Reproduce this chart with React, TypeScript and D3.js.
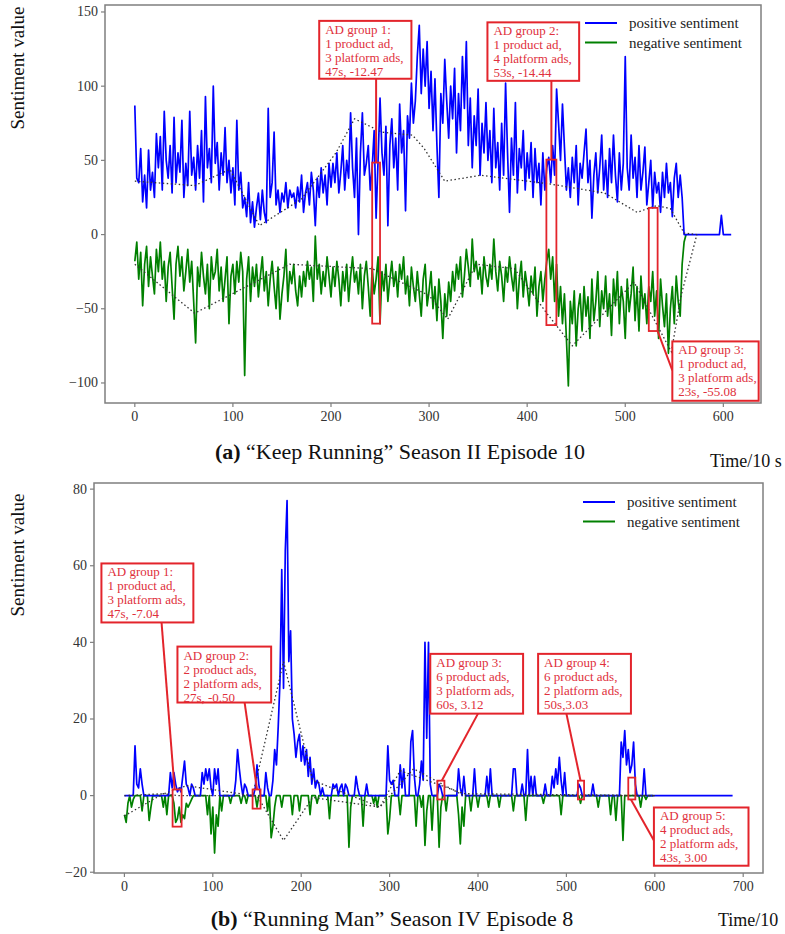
import React from 'react';
import * as d3 from 'd3';

// ---------- Panel (a): "Keep Running" Season II Episode 10 (x step = 2) ----------
const A_STEP = 2;
const A_POS = [
  87, 38, 35, 58, 22, 40, 18, 57, 30, 42, 25,
  68, 45, 66, 30, 83, 50, 38, 60, 28, 79,
  35, 55, 42, 77, 25, 48, 33, 83, 40, 52,
  30, 60, 38, 70, 22, 93, 45, 58, 35, 100,
  48, 62, 30, 55, 40, 72, 35, 50, 28, 45,
  20, 77, 30, 42, 18, 25, 12, 35, 8, 22,
  5, 18, 28, 10, 30, 15, 8, 85, 25, 35,
  69, 20, 30, 15, 28, 22, 35, 18, 30, 25,
  28, 18, 32, 22, 40, 15, 28, 35, 20, 42,
  30, 6, 38, 25, 45, 28, 40, 20, 48, 32,
  48, 35, 55, 28, 42, 60, 30, 50, 38, 82,
  45, 25, 65, 0, 55, 82, 40, 48, 60, 30,
  45, 70, 11, 50, 92, 55, 40, 73, 6, 60,
  78, 45, 65, 30, 88, 55, 70, 16, 80, 65,
  102, 75, 90, 120, 141, 95, 125, 100, 130, 85,
  110, 70, 105, 60, 25, 95, 75, 118, 90, 65,
  100, 78, 112, 55, 95, 70, 120, 85, 130, 60,
  92, 45, 80, 60, 98, 40, 75, 55, 89, 50,
  70, 35, 85, 45, 62, 30, 75, 40, 102, 55,
  15, 65, 40, 89, 28, 58, 45, 70, 30, 55,
  38, 62, 25, 58, 35, 48, 20, 55, 30, 45,
  52, 35, 60, 40, 98, 75, 50, 88, 59, 30,
  45, 25, 52, 35, 60, 20, 48, 38, 55, 71,
  35, 50, 11, 40, 55, 28, 45, 67, 30, 50,
  25, 58, 35, 67, 40, 22, 55, 30, 48, 120,
  45, 30, 67, 38, 52, 25, 60, 30, 42, 59,
  20, 35, 50, 18, 42, 28, 35, 15, 42, 25,
  48, 28, 35, 12, 38, 48, 25, 40, 25, 0,
  0, 0, 0, 0, 0, 0, 0, 0, 0, 0,
  0, 0, 0, 0, 0, 0, 0, 0, 13, 0,
  0, 0, 0, 0,
];
const A_NEG = [
  -18, -5, -30, -12, -48, -20, -8, -35, -15, -28, -40,
  -10, -25, -5, -30, -18, -45, -22, -12, -35, -57,
  -20, -8, -28, -15, -38, -25, -10, -32, -18, -45,
  -73, -22, -35, -12, -28, -40, -20, -50, -15, -30,
  -25, -10, -38, -22, -45, -30, -15, -60, -28, -20,
  -40, -18, -32, -12, -25, -95, -30, -15, -45, -22,
  -35, -20, -42, -28, -15, -38, -25, -48, -30, -18,
  -35, -50, -22, -57, -40, -28, -10, -45, -25, -33,
  -20, -38, -48, -28, -42, -25, -35, -18, -30, -22,
  -45, -1, -30, -20, -40, -25, -35, -15, -28, -42,
  -22, -35, -18, -30, -48, -25, -38, -20, -45, -28,
  -15, -32, -25, -40, -20, -50, -28, -18, -35, -55,
  -22, -40, -30, -15, -60, -25, -38, -20, -45, -30,
  -18, -35, -25, -42, -20, -30, -15, -40, -28, -48,
  -22, -35, -45, -25, -40, -55, -30, -20, -48, -38,
  -25, -50, -35, -58, -30, -45, -70, -40, -55, -32,
  -45, -25, -38, -20, -30, -15, -42, -28, -10, -22,
  -35, -3, -25, -18, -30, -22, -40, -15, -28, -35,
  -20, -30, -3, -25, -38, -18, -28, -45, -22, -32,
  -15, -28, -38, -20, -50, -30, -18, -42, -25, -35,
  -48, -28, -40, -22, -55, -35, -25, -45, -30, -18,
  -10, -30, -15, -45, -20, -55, -35, -60, -40, -70,
  -102, -45, -60, -38, -75, -50, -40, -65, -35, -55,
  -42, -70, -30, -58, -45, -25, -62, -38, -50, -28,
  -55, -40, -68, -30, -48, -25, -60, -35, -45, -70,
  -30, -52, -40, -22, -58, -35, -65, -28, -50, -40,
  -60, -35, -45, -25, -55, -38, -70, -30, -48, -62,
  -40, -80, -50, -35, -60, -28, -45, -55, -20, -5,
  0,
];
const A_POS_TREND = [[0, 36], [61, 33], [97, 44], [127, 6], [170, 24], [205, 55], [224, 78], [252, 69], [283, 67], [295, 58], [316, 36], [353, 40], [424, 34], [479, 28], [512, 15], [532, 19.5], [546, 17.5], [560, 1], [573, 0]];
const A_NEG_TREND = [[0, -20], [61, -53], [158, -20], [242, -23], [300, -41], [319, -57], [348, -20], [387, -23], [420, -53], [446, -75], [509, -32], [547, -79], [557, -41], [573, 0]];
const A_XTICKS = [0, 100, 200, 300, 400, 500, 600];
const A_YTICKS = [-100, -50, 0, 50, 100, 150];
const A_ANN = [
  { lines: ['AD group 1:', '1 product ad,', '3 platform ads,', '47s, -12.47'], box: [188, 144, 282, 105], rect: [242, 48.5, 250, -60], leader: [[246, 105], [246, 48.5]] },
  { lines: ['AD group 2:', '1 product ad,', '4 platform ads,', '53s, -14.44'], box: [359.5, 143, 453, 103.6], rect: [419.6, 50.5, 429.8, -61], leader: [[424.7, 103.6], [424.7, 50.5]] },
  { lines: ['AD group 3:', '1 product ad,', '3 platform ads,', '23s, -55.08'], box: [548, -72, 636, -112], rect: [524, 18, 533, -65], leader: [[533, -65], [548, -91.5]] },
];

// ---------- Panel (b): "Running Man" Season IV Episode 8 (x step = 2) ----------
const B_STEP = 2;
const B_POS = [
  0, 0, 0, 0, 0, 0, 13, 3, 2, 7,
  3, 0, 0, 0, 0, 0, 0, 0, 0, 0,
  0, 0, 0, 0, 0, 0, 6, 2, 6, 3,
  1, 2, 1, 5, 9, 3, 2, 0, 3, 2,
  0, 0, 0, 0, 6, 3, 7, 4, 7, 2,
  0, 7, 3, 7, 0, 0, 0, 0, 0, 0,
  0, 0, 0, 4, 12, 7, 3, 0, 3, 2,
  0, 0, 0, 0, 2, 8, 3, 0, 0, 0,
  6, 2, 0, 0, 4, 12, 8, 18, 30, 59,
  28, 64, 77, 35, 43, 20, 16, 10, 14, 16,
  9, 13, 8, 12, 5, 10, 3, 7, 2, 4,
  3, 0, 2, 0, 0, 0, 0, 0, 3, 2,
  3, 0, 2, 3, 0, 3, 2, 0, 0, 0,
  0, 5, 2, 0, 0, 0, 0, 3, 0, 0,
  0, 0, 0, 0, 0, 0, 0, 0, 0, 13,
  4, 3, 4, 0, 0, 0, 8, 2, 7, 0,
  0, 0, 14, 17, 5, 0, 0, 3, 9, 4,
  40, 15, 40, 3, 0, 0, 0, 0, 3, 2,
  0, 0, 0, 0, 0, 0, 0, 0, 0, 7,
  2, 0, 5, 0, 0, 0, 0, 0, 7, 0,
  0, 0, 0, 0, 0, 5, 0, 7, 0, 0,
  0, 0, 0, 0, 0, 0, 0, 0, 0, 0,
  7, 7, 0, 0, 0, 3, 0, 0, 12, 0,
  5, 0, 5, 0, 0, 0, 0, 0, 3, 0,
  0, 0, 5, 2, 7, 3, 10, 4, 0, 6,
  0, 0, 0, 0, 0, 0, 0, 3, 2, 0,
  0, 0, 0, 0, 0, 3, 0, 0, 0, 0,
  0, 0, 0, 0, 0, 0, 0, 0, 0, 0,
  0, 14, 10, 17, 8, 12, 6, 8, 14, 3,
  0, 0, 0, 0, 7, 0, 0, 0, 0, 0,
  0, 0, 0, 0, 0, 0, 0, 0, 0, 0,
  0, 0, 0, 0, 0, 0, 0, 0, 0, 0,
  0, 0, 0, 0, 0, 0, 0, 0, 0, 0,
  0, 0, 0, 0, 0, 0, 0, 0, 0, 0,
  0, 0, 0, 0, 0,
];
const B_NEG = [
  -5, -7, -2, 0, -3, -1, 0, 0, 0, 0,
  -4, 0, 0, 0, -6.5, -3, 0, 0, 0, 0,
  0, 0, -3, 0, -5, 0, 0, 0, -2, -7,
  -6, -3, -7, -5, -6, -2, -3, -2, -1, 0,
  0, 0, 0, 0, 0, 0, 0, -5, 0, -10,
  -3, -15, -5, -8, 0, -4, 0, 0, 0, 0,
  -2, 0, 0, 0, 0, 0, -2, 0, 0, -2,
  0, 0, 0, 0, 0, -3, 0, 0, 0, 0,
  0, -4, 0, -11, -8, -3, 0, 0, 0, -3,
  0, 0, 0, 0, 0, -5, 0, 0, 0, -4,
  0, 0, 0, 0, 0, -5, 0, 0, 0, -2,
  0, 0, 0, 0, 0, 0, -6, 0, 0, 0,
  0, 0, 0, 0, 0, 0, 0, -13.5, -3, 0,
  0, 0, 0, 0, 0, -8, 0, 0, 0, 0,
  0, -2, 0, -3, 0, 0, 0, 0, 0, -10,
  -6, 0, 0, 0, 0, 0, -5, 0, 0, 0,
  0, 0, 0, 0, 0, -8, 0, 0, -3, 0,
  -13, -4, 0, 0, -9, 0, 0, 0, -13.5, -3,
  0, 0, -4, 0, 0, 0, 0, 0, 0, -5,
  -12.6, -3, -8, 0, 0, 0, -4, 0, 0, 0,
  -3, 0, 0, 0, 0, 0, -3, 0, 0, 0,
  0, 0, -3, 0, 0, 0, 0, 0, 0, 0,
  -4, 0, 0, 0, 0, 0, 0, -6.5, 0, 0,
  0, 0, 0, 0, 0, 0, 0, -2, 0, 0,
  0, 0, 0, 0, 0, 0, 0, -5, 0, 0,
  0, 0, 0, 0, 0, 0, 0, 0, -2, 0,
  0, 0, 0, 0, 0, 0, 0, 0, -3, 0,
  0, 0, 0, 0, 0, -5, 0, 0, -6.5, 0,
  0, 0, -11.7, 0, 0, 0, 0, 0, 0, 0,
  0, 0, -3, 0, 0, -1, 0, 0, 0, 0,
];
const B_POS_TREND = [[0, 0], [45, 0.5], [70, 2.6], [145, 0], [180, 35], [213, 4], [289, -3], [327, 7], [384, 0], [600, 0]];
const B_NEG_TREND = [[0, -5.3], [44, 0.5], [60, 0], [150, 0], [180, -11.7], [213, -0.5], [289, -3], [312, 6.5], [384, 0.5], [600, 0]];
const B_XTICKS = [0, 100, 200, 300, 400, 500, 600, 700];
const B_YTICKS = [-20, 0, 20, 40, 60, 80];
const B_ANN = [
  { lines: ['AD group 1:', '1 product ad,', '3 platform ads,', '47s, -7.04'], box: [-26, 60.6, 78, 45.2], rect: [54.5, 1.6, 64.7, -8.1], leader: [[42, 45.2], [56.8, 1.6]] },
  { lines: ['AD group 2:', '2 product ads,', '2 platform ads,', '27s, -0.50'], box: [60, 38.9, 166, 24.3], rect: [145, 1.6, 154, -3.4], leader: [[136, 24.3], [150, 1.6]] },
  { lines: ['AD group 3:', '6 product ads,', '3 platform ads,', '60s, 3.12'], box: [346, 37, 451, 21.4], rect: [354, 3.9, 362, -1], leader: [[400, 21.4], [359, 3.9]] },
  { lines: ['AD group 4:', '6 product ads,', '2 platform ads,', '50s,3.03'], box: [468, 37, 573, 21.4], rect: [513, 3.9, 520, -1], leader: [[500, 21.4], [516, 3.9]] },
  { lines: ['AD group 5:', '4 product ads,', '2 platform ads,', '43s, 3.00'], box: [599, -3.1, 706, -18.3], rect: [570, 4.7, 578, -1], leader: [[573, -1], [599, -11.7]] },
];

const LEGEND = ['positive sentiment', 'negative sentiment'];
const COLORS = ['#0000ff', '#008000'];
const RED = '#e3242b';
const RED_TEXT = '#e0303c';
const SERIF = '"Liberation Serif", "Times New Roman", serif';

function fmt(v: number) {
  return v < 0 ? '\u2212' + Math.abs(v) : String(v);
}

function Panel(p: any) {
  const x = d3.scaleLinear().domain(p.xDomain).range([p.l, p.r]);
  const y = d3.scaleLinear().domain(p.yDomain).range([p.b, p.t]);
  const line = d3.line<number[]>().x((d) => x(d[0])).y((d) => y(d[1]));
  const posPts = p.pos.map((v: number, i: number) => [i * p.step, v]);
  const negPts = p.neg.map((v: number, i: number) => [i * p.step, v]);
  const clipId = 'clip-' + p.id;
  const frame = '#7f7f7f';
  return (
    <g>
      <defs>
        <clipPath id={clipId}>
          <rect x={p.l} y={p.t} width={p.r - p.l} height={p.b - p.t} />
        </clipPath>
      </defs>
      <g clipPath={`url(#${clipId})`}>
        <path d={line(negPts) || ''} fill="none" stroke={COLORS[1]} strokeWidth={1.7} strokeLinejoin="round" />
        <path d={line(posPts) || ''} fill="none" stroke={COLORS[0]} strokeWidth={1.7} strokeLinejoin="round" />
        <path d={line(p.posTrend) || ''} fill="none" stroke="#333" strokeWidth={1.3} strokeDasharray="1.5,2.5" />
        <path d={line(p.negTrend) || ''} fill="none" stroke="#333" strokeWidth={1.3} strokeDasharray="1.5,2.5" />
      </g>
      <rect x={p.l} y={p.t} width={p.r - p.l} height={p.b - p.t} fill="none" stroke={frame} strokeWidth={1.5} />
      {p.yTicks.map((t: number) => (
        <g key={'y' + t}>
          <line x1={p.l - 4} x2={p.l} y1={y(t)} y2={y(t)} stroke={frame} strokeWidth={1.2} />
          <text x={p.l - 7} y={y(t) + 4.5} textAnchor="end" fontSize={14} fill="#333" fontFamily={SERIF}>{fmt(t)}</text>
        </g>
      ))}
      {p.xTicks.map((t: number) => (
        <g key={'x' + t}>
          <line x1={x(t)} x2={x(t)} y1={p.b} y2={p.b + 4} stroke={frame} strokeWidth={1.2} />
          <text x={x(t)} y={p.b + 18} textAnchor="middle" fontSize={14} fill="#333" fontFamily={SERIF}>{fmt(t)}</text>
        </g>
      ))}
      {LEGEND.map((s, i) => (
        <g key={s}>
          <line x1={p.legX} x2={p.legX + 32} y1={p.legY + i * 19.5} y2={p.legY + i * 19.5} stroke={COLORS[i]} strokeWidth={2} />
          <text x={p.legX + 44} y={p.legY + i * 19.5 + 5} fontSize={15} fill="#222" fontFamily={SERIF}>{s}</text>
        </g>
      ))}
      {p.ann.map((a: any, k: number) => {
        const bx0 = x(a.box[0]), by0 = y(a.box[1]), bx1 = x(a.box[2]), by1 = y(a.box[3]);
        return (
          <g key={'a' + k}>
            <line x1={x(a.leader[0][0])} y1={y(a.leader[0][1])} x2={x(a.leader[1][0])} y2={y(a.leader[1][1])} stroke={RED} strokeWidth={2} />
            <rect x={x(a.rect[0])} y={y(a.rect[1])} width={x(a.rect[2]) - x(a.rect[0])} height={y(a.rect[3]) - y(a.rect[1])} fill="none" stroke={RED} strokeWidth={1.8} />
            <rect x={bx0} y={by0} width={bx1 - bx0} height={by1 - by0} fill="#fff" stroke={RED} strokeWidth={2} />
            {a.lines.map((ln: string, j: number) => (
              <text key={j} x={bx0 + 6} y={by0 + 13 + j * 14} fontSize={13} fill={RED_TEXT} fontFamily={SERIF}>{ln}</text>
            ))}
          </g>
        );
      })}
      <text transform={`translate(${p.yLabX},${p.yLabY}) rotate(-90)`} textAnchor="middle" fontSize={19} fill="#111" fontFamily={SERIF}>Sentiment value</text>
      <text x={p.titleX} y={p.titleY} textAnchor="middle" fontSize={22} fill="#111" fontFamily={SERIF}>
        <tspan fontWeight="bold">{p.titleTag}</tspan>
        <tspan>{' ' + p.title}</tspan>
      </text>
      <text x={p.timeX} y={p.timeY} fontSize={18} fill="#111" fontFamily={SERIF}>{p.timeLabel}</text>
    </g>
  );
}

export default function App() {
  return (
    <svg width={785} height={934} style={{ position: 'absolute', left: 0, top: 0, background: '#fff' }}>
      <rect x={0} y={0} width={785} height={934} fill="#fff" />
      <Panel
        id="a"
        l={105} r={761} t={5} b={403}
        xDomain={[-30.4, 638.4]} yDomain={[-113.5, 154.7]}
        step={A_STEP} pos={A_POS} neg={A_NEG}
        posTrend={A_POS_TREND} negTrend={A_NEG_TREND}
        xTicks={A_XTICKS} yTicks={A_YTICKS}
        ann={A_ANN}
        legX={585} legY={23}
        yLabX={24} yLabY={68}
        titleX={400} titleY={459} titleTag="(a)" title={'\u201CKeep Running\u201D Season II Episode 10'}
        timeX={710} timeY={467} timeLabel="Time/10 s"
      />
      <Panel
        id="b"
        l={94} r={763} t={483} b={873}
        xDomain={[-34.4, 722.4]} yDomain={[-20.2, 81.6]}
        step={B_STEP} pos={B_POS} neg={B_NEG}
        posTrend={B_POS_TREND} negTrend={B_NEG_TREND}
        xTicks={B_XTICKS} yTicks={B_YTICKS}
        ann={B_ANN}
        legX={583} legY={502}
        yLabX={24} yLabY={555}
        titleX={392} titleY={926} titleTag="(b)" title={'\u201CRunning Man\u201D Season IV Episode 8'}
        timeX={718} timeY={926} timeLabel="Time/10"
      />
    </svg>
  );
}
